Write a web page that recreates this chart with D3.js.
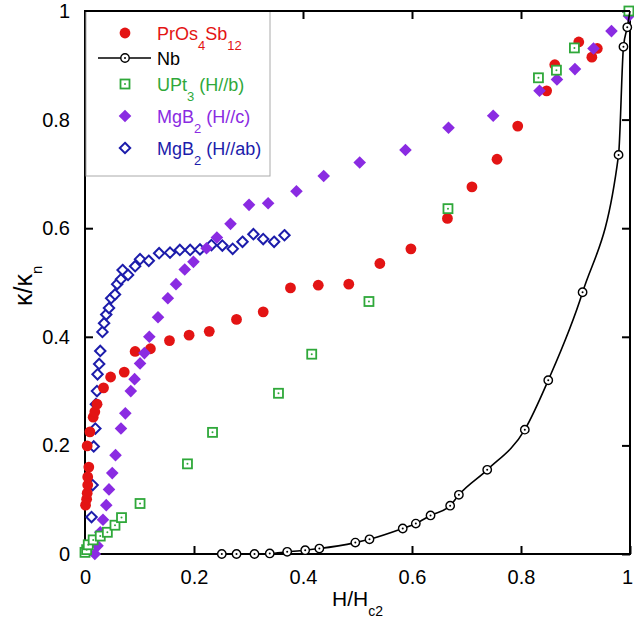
<!DOCTYPE html>
<html>
<head>
<meta charset="utf-8">
<script src="https://cdn.jsdelivr.net/npm/d3@7"></script>
<style>
  body { margin: 0; background: #fff; }
  svg { display: block; font-family: "Liberation Sans", Arial, sans-serif; }
</style>
</head>
<body>
<div id="chart"></div>
<script>
// H/Hc2 , kappa/kappa_n
const prOs4Sb12 = [
  [0.001, 0.090], [0.003, 0.101], [0.004, 0.112], [0.005, 0.127], [0.005, 0.142],
  [0.007, 0.160], [0.004, 0.199], [0.009, 0.225], [0.015, 0.252], [0.018, 0.262],
  [0.022, 0.276], [0.034, 0.306], [0.047, 0.326], [0.072, 0.335], [0.092, 0.373],
  [0.120, 0.378], [0.155, 0.393], [0.191, 0.403], [0.228, 0.410], [0.278, 0.432],
  [0.327, 0.446], [0.377, 0.490], [0.428, 0.495], [0.484, 0.497], [0.541, 0.535],
  [0.598, 0.562], [0.665, 0.618], [0.710, 0.676], [0.756, 0.727], [0.794, 0.788],
  [0.847, 0.853], [0.862, 0.901], [0.906, 0.943], [0.930, 0.915], [0.940, 0.931]
];
const nb = [
  [0.251, 0.000], [0.278, 0.000], [0.311, 0.000], [0.339, 0.001], [0.371, 0.004],
  [0.404, 0.007], [0.430, 0.010], [0.496, 0.021], [0.522, 0.027], [0.583, 0.047],
  [0.607, 0.056], [0.634, 0.071], [0.670, 0.089], [0.686, 0.109], [0.738, 0.155],
  [0.807, 0.229], [0.850, 0.320], [0.913, 0.482], [0.979, 0.735], [0.988, 0.934],
  [0.995, 0.970], [1.000, 1.000]
];
const upt3 = [
  [0.000, 0.003], [0.003, 0.008], [0.006, 0.017], [0.015, 0.026], [0.028, 0.033],
  [0.041, 0.040], [0.055, 0.053], [0.067, 0.067], [0.101, 0.093], [0.188, 0.166],
  [0.234, 0.224], [0.355, 0.296], [0.416, 0.368], [0.521, 0.465], [0.666, 0.636],
  [0.832, 0.877], [0.865, 0.891], [0.898, 0.932], [0.998, 1.000]
];
const mgb2c = [
  [0.018, 0.000], [0.023, 0.015], [0.028, 0.040], [0.033, 0.063], [0.039, 0.090],
  [0.044, 0.119], [0.050, 0.149], [0.056, 0.182], [0.066, 0.231], [0.074, 0.259],
  [0.084, 0.300], [0.091, 0.322], [0.101, 0.351], [0.109, 0.370], [0.118, 0.400],
  [0.134, 0.436], [0.152, 0.471], [0.167, 0.497], [0.183, 0.524], [0.199, 0.538],
  [0.223, 0.563], [0.242, 0.583], [0.267, 0.608], [0.301, 0.643], [0.336, 0.646],
  [0.388, 0.668], [0.438, 0.696], [0.504, 0.721], [0.588, 0.744], [0.667, 0.785],
  [0.749, 0.807], [0.834, 0.853], [0.866, 0.874], [0.899, 0.893], [0.933, 0.931],
  [0.966, 0.963], [0.998, 0.991]
];
const mgb2ab = [
  [0.012, 0.068], [0.014, 0.127], [0.016, 0.198], [0.019, 0.231], [0.020, 0.276],
  [0.022, 0.300], [0.023, 0.331], [0.026, 0.350], [0.028, 0.374], [0.032, 0.409],
  [0.035, 0.425], [0.039, 0.441], [0.044, 0.453], [0.048, 0.471], [0.055, 0.478],
  [0.059, 0.497], [0.066, 0.506], [0.069, 0.523], [0.079, 0.514], [0.092, 0.530],
  [0.101, 0.543], [0.117, 0.540], [0.136, 0.554], [0.156, 0.555], [0.174, 0.560],
  [0.193, 0.560], [0.211, 0.561], [0.232, 0.569], [0.252, 0.568], [0.271, 0.562],
  [0.289, 0.575], [0.309, 0.589], [0.327, 0.580], [0.347, 0.575], [0.366, 0.587]
];
const tickVals = [0, 0.2, 0.4, 0.6, 0.8, 1];
const tickLabels = ['0', '0.2', '0.4', '0.6', '0.8', '1'];
const legendLabels = [
  [['PrOs'], ['4', 1], ['Sb'], ['12', 1]],
  [['Nb']],
  [['UPt'], ['3', 1], [' (H//b)']],
  [['MgB'], ['2', 1], [' (H//c)']],
  [['MgB'], ['2', 1], [' (H//ab)']]
];

const red = '#e31414', green = '#2fa83a', purple = '#8a2be2', blue = '#1c1cab';

var width = 634, height = 618;
var svg = d3.select('#chart').append('svg')
  .attr('width', width).attr('height', height);

var x = d3.scaleLinear().domain([0, 1]).range([85, 630]);
var y = d3.scaleLinear().domain([0, 1]).range([554, 11]);

// axes, ticks point inward on all sides
function styleAxis(g) {
  g.selectAll('.tick line').attr('stroke', '#000').attr('stroke-width', 2);
  g.select('.domain').remove();
  g.selectAll('text').attr('font-size', 20).attr('fill', '#000');
}
var fmt = (d, i) => tickLabels[i];
var xAxisG = svg.append('g').attr('transform', 'translate(0,554)')
  .call(d3.axisBottom(x).tickValues(tickVals).tickFormat(fmt).tickSize(-8).tickPadding(16))
  .call(styleAxis);
// keep the "1" at the right edge inside the window
xAxisG.selectAll('.tick text').filter(d => d === 1).attr('dx', -3);
svg.append('g').attr('transform', 'translate(85,0)')
  .call(d3.axisLeft(y).tickValues(tickVals).tickFormat(fmt).tickSize(-8).tickPadding(15))
  .call(styleAxis);
svg.append('g').attr('transform', 'translate(0,11)')
  .call(d3.axisTop(x).tickValues(tickVals).tickFormat('').tickSize(-8))
  .call(styleAxis);
svg.append('g').attr('transform', 'translate(630,0)')
  .call(d3.axisRight(y).tickValues(tickVals).tickFormat('').tickSize(-8))
  .call(styleAxis);

svg.append('rect')
  .attr('x', x(0)).attr('y', y(1))
  .attr('width', x(1) - x(0)).attr('height', y(0) - y(1))
  .attr('fill', 'none').attr('stroke', '#000').attr('stroke-width', 2);

// axis titles
var xt = svg.append('text').attr('x', 332).attr('y', 606)
  .attr('font-size', 21).attr('fill', '#000');
xt.append('tspan').text('H/H');
xt.append('tspan').attr('dy', 10).attr('font-size', 14).text('c2');

var yt = svg.append('text').attr('transform', 'translate(32,306) rotate(-90)')
  .attr('font-size', 25).attr('fill', '#000');
yt.append('tspan').text('κ/κ');
yt.append('tspan').attr('dy', 10).attr('font-size', 15).text('n');

// marker helpers
const diamond = r => `M0,${-r}L${r},0L0,${r}L${-r},0Z`;
function drawOpenDiamond(g, pts) {
  g.selectAll(null).data(pts).enter().append('path')
    .attr('d', diamond(5.2))
    .attr('transform', d => `translate(${x(d[0])},${y(d[1])})`)
    .attr('fill', '#fff').attr('stroke', blue).attr('stroke-width', 2);
}
function drawDot(g, pts) {
  g.selectAll(null).data(pts).enter().append('circle')
    .attr('cx', d => x(d[0])).attr('cy', d => y(d[1])).attr('r', 5.4)
    .attr('fill', red);
}
function drawDiamond(g, pts) {
  g.selectAll(null).data(pts).enter().append('path')
    .attr('d', diamond(6.3))
    .attr('transform', d => `translate(${x(d[0])},${y(d[1])})`)
    .attr('fill', purple);
}
function drawSquare(g, pts) {
  var s = g.selectAll(null).data(pts).enter().append('g')
    .attr('transform', d => `translate(${x(d[0])},${y(d[1])})`);
  s.append('rect').attr('x', -4.5).attr('y', -4.5).attr('width', 9).attr('height', 9)
    .attr('fill', '#fff').attr('stroke', green).attr('stroke-width', 1.8);
  s.append('circle').attr('r', 1).attr('fill', green);
}
function drawRing(g, pts) {
  var s = g.selectAll(null).data(pts).enter().append('g')
    .attr('transform', d => `translate(${x(d[0])},${y(d[1])})`);
  s.append('circle').attr('r', 4.2)
    .attr('fill', '#fff').attr('stroke', '#000').attr('stroke-width', 1.4);
  s.append('circle').attr('r', 1).attr('fill', '#000');
}

var plot = svg.append('g');
drawOpenDiamond(plot.append('g'), mgb2ab);
drawDot(plot.append('g'), prOs4Sb12);
drawDiamond(plot.append('g'), mgb2c);
drawSquare(plot.append('g'), upt3);

var line = d3.line().x(d => x(d[0])).y(d => y(d[1])).curve(d3.curveMonotoneX);
plot.append('path').datum(nb).attr('d', line)
  .attr('fill', 'none').attr('stroke', '#000').attr('stroke-width', 1.6);
drawRing(plot.append('g'), nb.slice(0, nb.length - 1));

// legend
var lg = svg.append('g');
lg.append('rect').attr('x', 86).attr('y', 11).attr('width', 184).attr('height', 165)
  .attr('fill', '#fff').attr('stroke', '#aaa').attr('stroke-width', 1);
lg.append('line').attr('x1', 85).attr('x2', 630).attr('y1', 11).attr('y2', 11)
  .attr('stroke', '#000').attr('stroke-width', 2);

const rowY = [33, 58, 84, 116, 148];
const rowColor = [red, '#000', green, purple, blue];
lg.append('circle').attr('cx', 125).attr('cy', rowY[0]).attr('r', 5.4).attr('fill', red);
lg.append('line').attr('x1', 98).attr('x2', 151).attr('y1', rowY[1]).attr('y2', rowY[1])
  .attr('stroke', '#000').attr('stroke-width', 1.6);
lg.append('circle').attr('cx', 125).attr('cy', rowY[1]).attr('r', 4.2)
  .attr('fill', '#fff').attr('stroke', '#000').attr('stroke-width', 1.4);
lg.append('circle').attr('cx', 125).attr('cy', rowY[1]).attr('r', 1).attr('fill', '#000');
lg.append('rect').attr('x', 120.5).attr('y', rowY[2] - 4.5).attr('width', 9).attr('height', 9)
  .attr('fill', '#fff').attr('stroke', green).attr('stroke-width', 1.8);
lg.append('circle').attr('cx', 125).attr('cy', rowY[2]).attr('r', 1).attr('fill', green);
lg.append('path').attr('d', diamond(6.3)).attr('transform', `translate(125,${rowY[3]})`)
  .attr('fill', purple);
lg.append('path').attr('d', diamond(5.2)).attr('transform', `translate(125,${rowY[4]})`)
  .attr('fill', '#fff').attr('stroke', blue).attr('stroke-width', 2);

legendLabels.forEach((parts, i) => {
  var t = lg.append('text').attr('x', 157).attr('y', rowY[i] + 7)
    .attr('font-size', 18).attr('fill', rowColor[i]);
  var down = false;
  parts.forEach(p => {
    var ts = t.append('tspan').text(p[0]);
    if (p[1] && !down) { ts.attr('dy', 10).attr('font-size', 13); down = true; }
    else if (p[1]) { ts.attr('font-size', 13); }
    else if (down) { ts.attr('dy', -10); down = false; }
  });
});
</script>
</body>
</html>
